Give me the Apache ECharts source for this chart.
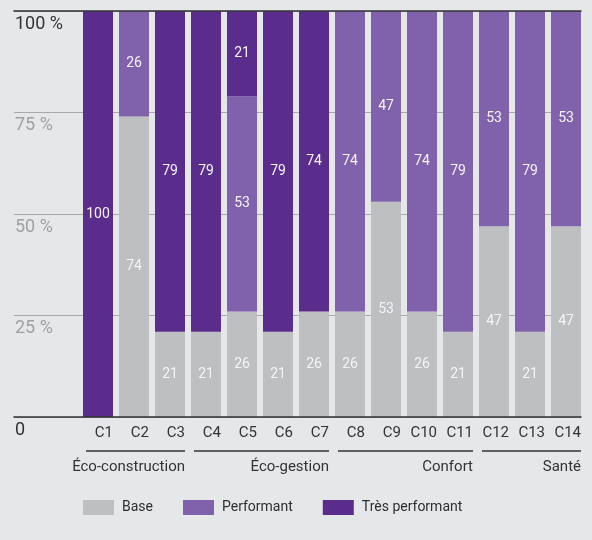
<!DOCTYPE html>
<html>
<head>
<meta charset="utf-8">
<script src="https://cdn.jsdelivr.net/npm/echarts@6/dist/echarts.min.js"></script>
<style>
  html, body { margin: 0; padding: 0; background: #e6e7e9; }
  #chart { width: 592px; height: 540px; }
</style>
</head>
<body>
<div id="chart"></div>
<script>
// Criteria and their scores by level (percent)
const categories = ['C1','C2','C3','C4','C5','C6','C7','C8','C9','C10','C11','C12','C13','C14'];
const baseValues        = [0, 74, 21, 21, 26, 21, 26, 26, 53, 26, 21, 47, 21, 47];
const performantValues  = [0, 26,  0,  0, 53,  0,  0, 74, 47, 74, 79, 53, 79, 53];
const tresPerfValues    = [100, 0, 79, 79, 21, 79, 74, 0,  0,  0,  0,  0,  0,  0];
const seriesNames = ['Base', 'Performant', 'Très performant'];
const yTickLabels = ['0', '25 %', '50 %', '75 %', '100 %'];
// Theme groups: first and last criterion index of each group
const groupNames = ['Éco-construction', 'Éco-gestion', 'Confort', 'Santé'];
const groupStart = [0, 3, 7, 11];
const groupEnd   = [2, 6, 10, 13];

const FONT = 'Roboto, "DejaVu Sans", sans-serif';
const colors = ['#bebfc1', '#8061ab', '#5a2d8c'];

const chart = echarts.init(document.getElementById('chart'), null, { renderer: 'canvas' });

function barSeries(name, values, color) {
  return {
    name: name,
    type: 'bar',
    stack: 'total',
    xAxisIndex: 2,
    yAxisIndex: 1,
    barWidth: 30,
    itemStyle: { color: color },
    label: {
      show: true,
      position: 'inside',
      color: '#f4f4f6',
      fontFamily: FONT,
      fontSize: 14,
      formatter: p => (p.value > 0 ? String(p.value) : '')
    },
    data: values
  };
}

const option = {
  backgroundColor: '#e6e7e9',
  animation: false,
  textStyle: { fontFamily: FONT },
  grid: [
    { left: 14, right: 11, top: 11, bottom: 123 },
    { left: 80, right: 8, top: 11, bottom: 123 }
  ],
  legend: {
    data: seriesNames,
    left: 83,
    top: 500,
    padding: 0,
    itemWidth: 31,
    itemHeight: 15,
    itemGap: 30,
    icon: 'rect',
    textStyle: { color: '#2e2e30', fontSize: 14, fontFamily: FONT, padding: [0, 0, 0, 3] }
  },
  xAxis: [
    { // bottom baseline
      type: 'category', gridIndex: 0, position: 'bottom', data: [],
      axisLine: { show: true, lineStyle: { color: '#333', width: 1.5 } },
      axisTick: { show: false }, axisLabel: { show: false }, z: 5
    },
    { // top line
      type: 'category', gridIndex: 0, position: 'top', data: [],
      axisLine: { show: true, lineStyle: { color: '#333', width: 1.5 } },
      axisTick: { show: false }, axisLabel: { show: false }, z: 5
    },
    { // criteria axis
      type: 'category', gridIndex: 1, data: categories,
      axisLine: { show: false }, axisTick: { show: false },
      axisLabel: {
        color: '#333', fontSize: 15, fontFamily: FONT, margin: 9,
        align: 'right', padding: [0, -15, 0, 0]
      }
    }
  ],
  yAxis: [
    {
      type: 'value', gridIndex: 0, min: 0, max: 100, interval: 25,
      axisLine: { show: false }, axisTick: { show: false },
      splitLine: { show: true, lineStyle: { color: '#a9a9ab', width: 1 } },
      axisLabel: {
        inside: true, margin: 1, align: 'left', verticalAlign: 'top',
        padding: [4, 0, 0, 0],
        fontSize: 18, fontFamily: FONT,
        formatter: v => yTickLabels[Math.round(Number(v) / 25)],
        color: v => {
          const n = Number(v);
          return (n === 0 || n === 100) ? '#333' : '#a0a0a2';
        }
      }
    },
    {
      type: 'value', gridIndex: 1, min: 0, max: 100, show: false
    }
  ],
  series: [
    barSeries(seriesNames[0], baseValues, colors[0]),
    barSeries(seriesNames[1], performantValues, colors[1]),
    barSeries(seriesNames[2], tresPerfValues, colors[2]),
    { // theme groups under the criteria labels
      type: 'custom',
      xAxisIndex: 2,
      yAxisIndex: 1,
      clip: false,
      silent: true,
      encode: { x: [0, 1], y: 2 },
      data: groupStart.map((s, i) => [s, groupEnd[i], 0]),
      renderItem: function (params, api) {
        const band = api.size([1, 0])[0];
        const half = band * 15 / 36;
        const p0 = api.coord([api.value(0), 0]);
        const p1 = api.coord([api.value(1), 0]);
        const x0 = p0[0] - half + 3;
        const x1 = p1[0] + half;
        const y = p0[1] + 34;
        return {
          type: 'group',
          children: [
            { type: 'line', shape: { x1: x0, y1: y, x2: x1, y2: y },
              style: { stroke: '#333', lineWidth: 1.5 } },
            { type: 'text', x: x1, y: y + 16,
              style: { text: groupNames[params.dataIndex], fill: '#333',
                       font: '15px ' + FONT, textAlign: 'right', textVerticalAlign: 'middle' } }
          ]
        };
      }
    }
  ]
};

chart.setOption(option);
</script>
</body>
</html>
